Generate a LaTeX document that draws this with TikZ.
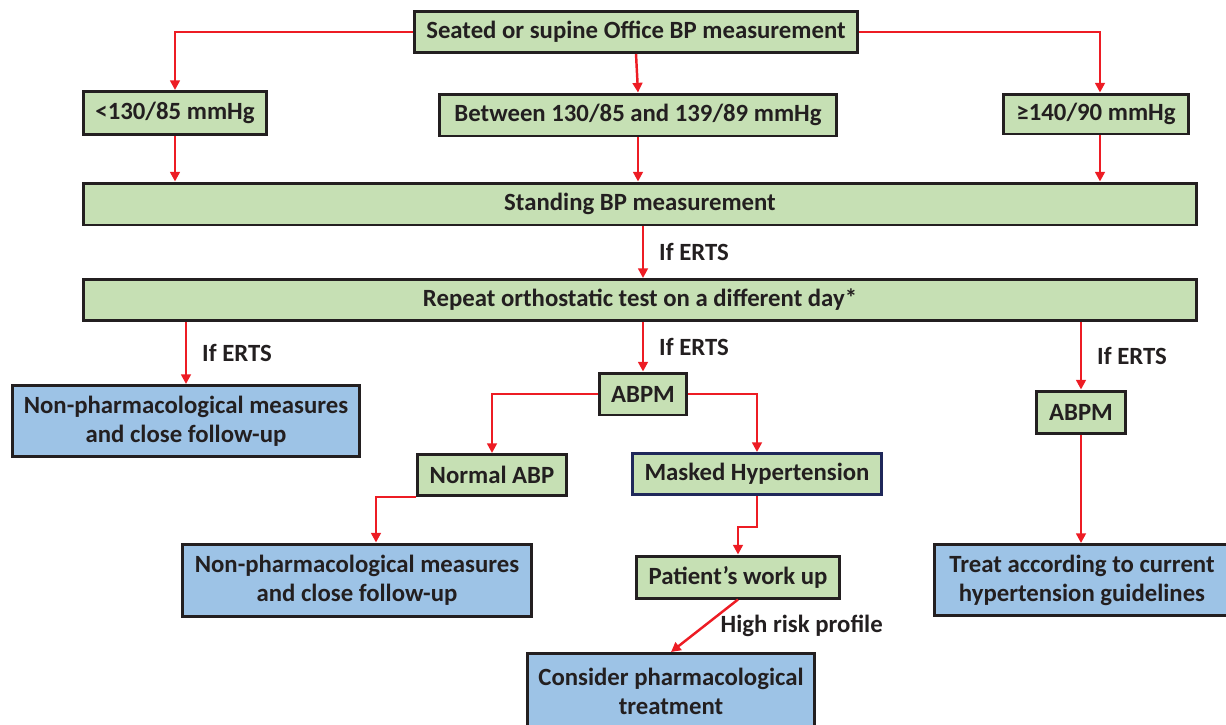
\documentclass[tikz,border=0pt]{standalone}
\usepackage{fontspec}
\setmainfont{Carlito}
\usetikzlibrary{arrows.meta}
\definecolor{boxgreen}{RGB}{198,224,180}
\definecolor{boxblue}{RGB}{157,195,230}
\definecolor{arrred}{RGB}{237,28,36}
\definecolor{inkdark}{RGB}{35,31,32}
\definecolor{navy}{RGB}{31,40,90}
\begin{document}
\begin{tikzpicture}[x=0.02cm,y=-0.02cm,
  every node/.style={font=\fontsize{14.1}{16.5}\selectfont\bfseries,text=inkdark},
  gbox/.style={draw=inkdark,line width=1.7pt,fill=boxgreen,inner sep=0pt,align=center},
  bbox/.style={draw=inkdark,line width=1.7pt,fill=boxblue,inner sep=0pt,align=center},
  arr/.style={draw=arrred,line width=1.4pt,-{Triangle[length=5.5pt,width=5.5pt]}},
  lbl/.style={inner sep=0pt,right=0.3cm}]
\clip (0,0) rectangle (1226,724);

\node[gbox,minimum width=8.88cm,minimum height=0.82cm] (top) at (636,32) {Seated or supine Office BP measurement};

\node[gbox,minimum width=3.66cm,minimum height=0.86cm] (lt) at (175,113) {<130/85 mmHg};
\node[gbox,minimum width=7.96cm,minimum height=0.84cm] (mid) at (638,115) {Between 130/85 and 139/89 mmHg};
\node[gbox,minimum width=3.7cm,minimum height=0.8cm] (rt) at (1096,114) {≥140/90 mmHg};

\node[gbox,minimum width=22.26cm,minimum height=0.84cm] (stand) at (640,204) {Standing BP measurement};
\node[gbox,minimum width=22.26cm,minimum height=0.82cm] (rep) at (640,300) {Repeat orthostatic test on a different day*};

\node[bbox,minimum width=6.96cm,minimum height=1.42cm] (non1) at (186,421) {Non-pharmacological measures\\and close follow-up};
\node[gbox,minimum width=1.74cm,minimum height=0.84cm] (abpm) at (643,394) {ABPM};
\node[gbox,minimum width=1.78cm,minimum height=0.84cm] (abpm2) at (1081,412) {ABPM};

\node[gbox,minimum width=2.98cm,minimum height=0.82cm] (nabp) at (492,475) {Normal ABP};
\node[gbox,draw=navy,minimum width=4.98cm,minimum height=0.82cm] (mh) at (757,474) {Masked Hypertension};

\node[bbox,minimum width=6.98cm,minimum height=1.44cm] (non2) at (357,580) {Non-pharmacological measures\\and close follow-up};
\node[gbox,minimum width=4.06cm,minimum height=0.84cm] (pw) at (738,577) {Patient’s work up};
\node[bbox,minimum width=5.9cm,minimum height=1.42cm] (treat) at (1082,580) {Treat according to current\\hypertension guidelines};
\node[bbox,minimum width=5.76cm,minimum height=1.5cm] (cons) at (671,691) {Consider pharmacological\\treatment};

\draw[arr] (top.west) -| (lt.north);
\draw[arr] (top.south) -- (mid.north);
\draw[arr] (top.east) -| ([xshift=0.08cm]rt.north);

\draw[arr] (lt.south) -- (lt.south |- stand.north);
\draw[arr] (mid.south) -- (mid.south |- stand.north);
\draw[arr] ([xshift=0.08cm]rt.south) -- ([xshift=0.08cm]rt.south |- stand.north);

\draw[arr] (stand.south -| abpm.north) -- node[lbl] (e1) {If ERTS} (rep.north -| abpm.north);

\draw[arr] (rep.south -| non1.north) -- node[lbl] (e2) {If ERTS} (non1.north);
\draw[arr] (rep.south -| abpm.north) -- node[lbl] (e3) {If ERTS} (abpm.north);
\draw[arr] (rep.south -| abpm2.north) -- node[lbl] (e4) {If ERTS} (abpm2.north);

\draw[arr] (abpm.west) -| (nabp.north);
\draw[arr] (abpm.east) -| (mh.north);
\draw[arr] (nabp.south west) -| ([xshift=0.38cm]non2.north);
\draw[arr] (mh.south) -- ++(0,31) -| (pw.north);
\draw[arr] (pw.south) -- node[lbl] (e5) {High risk profile} (cons.north);
\draw[arr] (abpm2.south) -- (abpm2.south |- treat.north);
\end{tikzpicture}
\end{document}
